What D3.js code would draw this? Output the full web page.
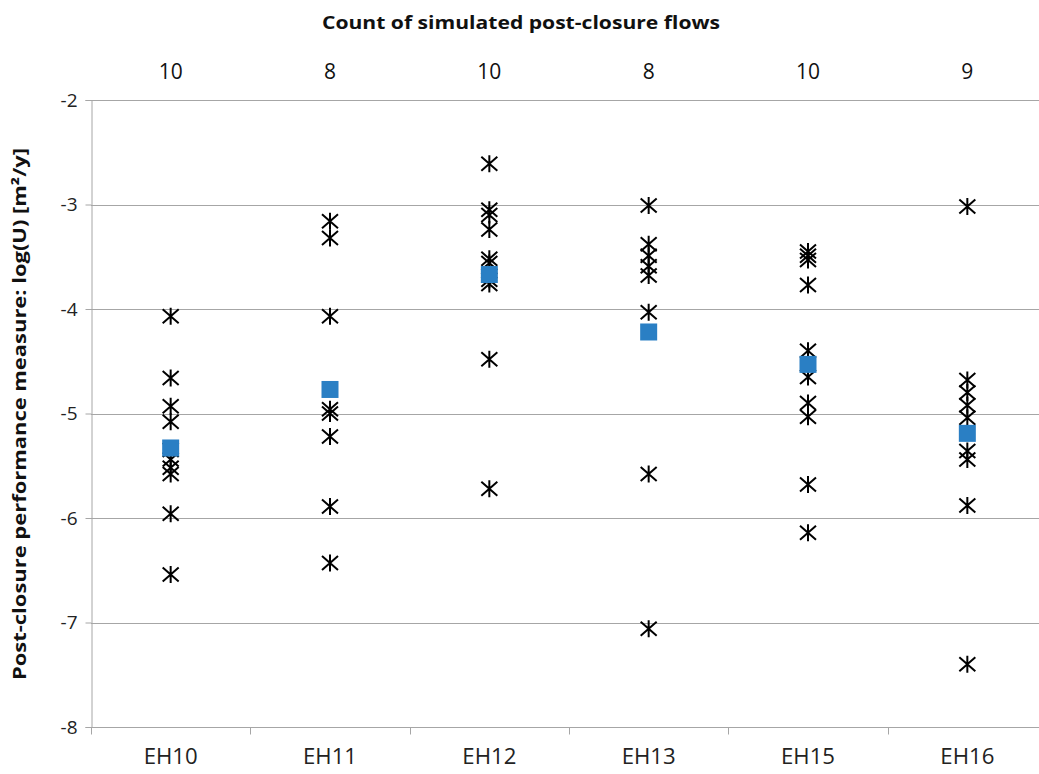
<!DOCTYPE html>
<html>
<head>
<meta charset="utf-8">
<script src="https://cdn.jsdelivr.net/npm/d3@7"></script>
<style>
  html, body { margin: 0; padding: 0; background: #fff; }
  svg { display: block; font-family: "Open Sans", "Liberation Sans", sans-serif; }
</style>
</head>
<body>
<svg id="chart" width="1039" height="774"></svg>
<script>
// Excavation holes and number of simulated post-closure flows per hole
const categories = ["EH10", "EH11", "EH12", "EH13", "EH15", "EH16"];
const flowCounts = [10, 8, 10, 8, 10, 9];

// log10(U) of each simulated flow, per hole
const logU_EH10 = [-4.07, -4.66, -4.93, -5.08, -5.35, -5.44, -5.52, -5.58, -5.96, -6.54];
const logU_EH11 = [-3.16, -3.32, -4.07, -4.96, -5.00, -5.22, -5.89, -6.43];
const logU_EH12 = [-2.61, -3.05, -3.10, -3.24, -3.52, -3.56, -3.72, -3.76, -4.48, -5.72];
const logU_EH13 = [-3.01, -3.38, -3.49, -3.59, -3.68, -4.03, -5.58, -7.06];
const logU_EH15 = [-3.45, -3.49, -3.53, -3.77, -4.40, -4.65, -4.90, -5.03, -5.68, -6.14];
const logU_EH16 = [-3.02, -4.68, -4.80, -4.92, -5.04, -5.36, -5.44, -5.88, -7.40];

// mean log10(U) per hole
const meanLogU = [-5.33, -4.77, -3.67, -4.22, -4.53, -5.19];

const yTicks = [-2, -3, -4, -5, -6, -7, -8];

const flows = [logU_EH10, logU_EH11, logU_EH12, logU_EH13, logU_EH15, logU_EH16];

const svg = d3.select("#chart");
const plotLeft = 91, plotRight = 1047, plotTop = 100, plotBottom = 727;

const x = d3.scaleBand().domain(categories).range([plotLeft, plotRight]).padding(0);
const y = d3.scaleLinear().domain([-8, -2]).range([plotBottom, plotTop]);
const cx = c => x(c) + x.bandwidth() / 2;

const gridColor = "#a6a6a6";

// horizontal gridlines
svg.append("g")
  .selectAll("line")
  .data(yTicks)
  .join("line")
  .attr("x1", plotLeft).attr("x2", plotRight)
  .attr("y1", d => Math.round(y(d)) + 0.5).attr("y2", d => Math.round(y(d)) + 0.5)
  .attr("stroke", gridColor).attr("stroke-width", 1);

// y axis
const yAxis = d3.axisLeft(y).tickValues(yTicks).tickSize(6).tickPadding(8)
  .tickFormat(d => String(d));
const gy = svg.append("g").attr("transform", `translate(${plotLeft + 0.5},0)`).call(yAxis);
gy.select(".domain").attr("stroke", gridColor);
gy.selectAll(".tick line").attr("stroke", gridColor);
gy.selectAll(".tick text").attr("font-size", 19).attr("fill", "#222")
  .style("font-family", "'Open Sans', sans-serif");

// x axis along the bottom, ticks at band edges
const gx = svg.append("g").attr("transform", `translate(0,${Math.round(y(-8)) + 0.5})`);
gx.selectAll("line.edge")
  .data(categories.map(c => x(c)).concat([plotRight]))
  .join("line")
  .attr("class", "edge")
  .attr("x1", d => Math.round(d) + 0.5).attr("x2", d => Math.round(d) + 0.5)
  .attr("y1", 0).attr("y2", 7)
  .attr("stroke", gridColor);
gx.selectAll("text")
  .data(categories)
  .join("text")
  .attr("x", d => cx(d))
  .attr("y", 36)
  .attr("text-anchor", "middle")
  .attr("font-size", 21)
  .attr("fill", "#222")
  .attr("textLength", 54).attr("lengthAdjust", "spacingAndGlyphs")
  .text(d => d);

// flow counts above the plot
svg.append("g")
  .selectAll("text")
  .data(categories)
  .join("text")
  .attr("x", d => cx(d))
  .attr("y", 79)
  .attr("text-anchor", "middle")
  .attr("font-size", 21)
  .attr("fill", "#111")
  .text((d, i) => flowCounts[i]);

// top title
svg.append("text")
  .attr("x", 521).attr("y", 29)
  .attr("text-anchor", "middle")
  .attr("font-size", 18).attr("font-weight", "bold")
  .attr("fill", "#111")
  .attr("textLength", 398).attr("lengthAdjust", "spacingAndGlyphs")
  .text("Count of simulated post-closure flows");

// y axis title
svg.append("text")
  .attr("transform", "translate(26,414) rotate(-90)")
  .attr("text-anchor", "middle")
  .attr("font-size", 18).attr("font-weight", "bold")
  .attr("fill", "#111")
  .attr("textLength", 532).attr("lengthAdjust", "spacingAndGlyphs")
  .text("Post-closure performance measure: log(U) [m²/y]");

// star markers for each simulated flow
const starPath = "M-8,-7L8,7M-8,7L8,-7M0,-8.5L0,8.5";
const points = [];
flows.forEach((vals, i) => vals.forEach(v => points.push({ cat: categories[i], v })));

svg.append("g")
  .selectAll("path")
  .data(points)
  .join("path")
  .attr("transform", d => `translate(${cx(d.cat)},${y(d.v)})`)
  .attr("d", starPath)
  .attr("fill", "none")
  .attr("stroke", "#000")
  .attr("stroke-width", 2);

// mean markers
const sq = 17;
svg.append("g")
  .selectAll("rect")
  .data(categories)
  .join("rect")
  .attr("x", d => cx(d) - sq / 2)
  .attr("y", (d, i) => y(meanLogU[i]) - sq / 2)
  .attr("width", sq).attr("height", sq)
  .attr("fill", "#2a7fc4");
</script>
</body>
</html>
